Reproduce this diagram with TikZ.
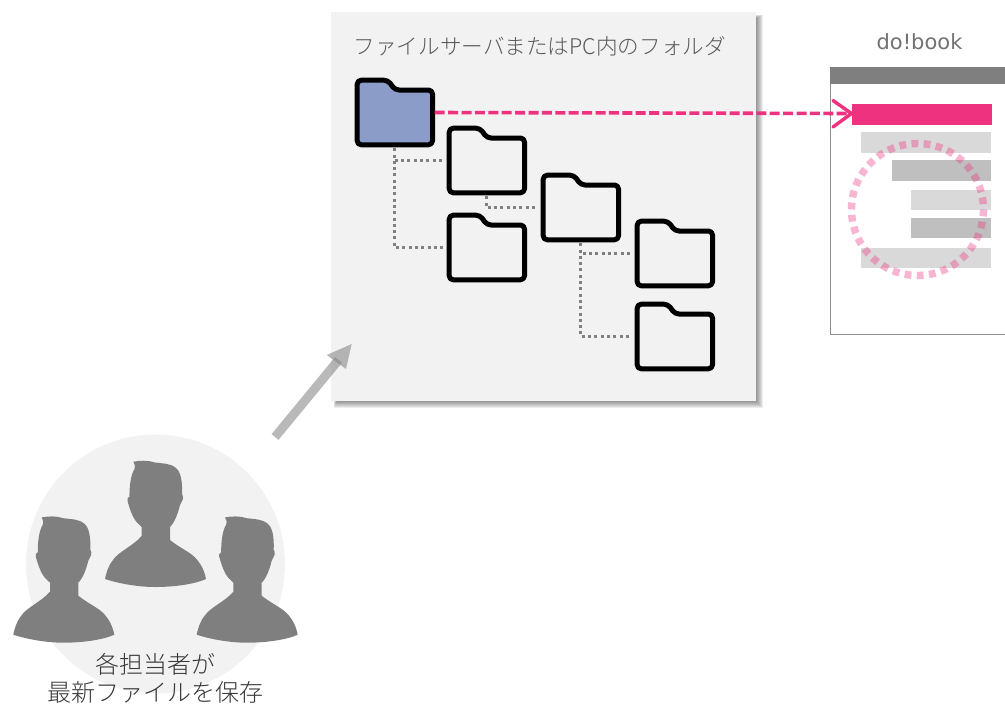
\documentclass[tikz,border=0pt]{standalone}
\usepackage{fontspec}
\setmainfont{Noto Sans CJK JP Light}
\newfontfamily\latinf{DejaVu Sans}
\usetikzlibrary{arrows.meta,calc}
\definecolor{panelbg}{HTML}{F2F2F2}
\definecolor{txtgray}{HTML}{595959}
\definecolor{txtdark}{HTML}{383838}
\definecolor{sil}{HTML}{7F7F7F}
\definecolor{pinkc}{HTML}{EE3280}
\definecolor{barl}{HTML}{D9D9D9}
\definecolor{bard}{HTML}{BFBFBF}
\definecolor{folderblue}{HTML}{8C9CC8}
\tikzset{
  x=1pt,y=-1pt,
  folderline/.style={draw=black,line width=5pt,rounded corners=4pt,line join=round},
  foldernode/.style={inner sep=0pt,minimum width=80pt,minimum height=69pt},
  dotline/.style={draw=gray,line width=2.7pt,dash pattern=on 3pt off 3.3pt},
  barbox/.style={inner sep=0pt,anchor=north west,outer sep=0pt},
  sillh/.style={fill=sil,draw=none},
}
% #1 name, #2 left, #3 top, #4 fill
\newcommand{\folderat}[4]{%
  \node[foldernode] (#1) at (#2+39.5,#3+34.5) {};
  \draw[folderline,fill=#4] (#2+2.2,#3+34) -- (#2+2.2,#3+2.2) -- (#2+33,#3+2.2)
     -- (#2+40,#3+12) -- (#2+77.5,#3+12) -- (#2+77.5,#3+66.8) -- (#2+2.2,#3+66.8) -- cycle;
}
% silhouette: #1 dx, #2 dy
\newcommand{\personat}[2]{%
  \fill[sillh,shift={(#1,#2)}] (133.3,461.7)
   .. controls (135,465) and (135.5,467) .. (134.5,469)
   .. controls (130.5,475) and (129.3,488) .. (129.5,496.5)
   .. controls (127.5,497.5) and (127,499) .. (127.5,501)
   .. controls (130,510) and (133,518) .. (136.5,522)
   -- (141.7,527) -- (141.7,536)
   .. controls (133,546) and (118,552) .. (113,560)
   .. controls (108,566) and (106,574) .. (105,579)
   .. controls (120,584) and (140,587) .. (155,587)
   .. controls (175,587) and (195,584) .. (206,579)
   .. controls (204,568) and (198,558) .. (188,552)
   .. controls (180,547) and (175,544) .. (170,540)
   -- (170,527)
   .. controls (175,522) and (178,513) .. (180,505)
   .. controls (182.5,500) and (184,498) .. (183,496.5)
   -- (182,494)
   .. controls (182.5,482) and (181,472) .. (176,468)
   .. controls (170,463) and (162,463.5) .. (155,462.5)
   .. controls (148,460) and (140,460.5) .. (133.3,461.7) -- cycle;
}
\begin{document}
\begin{tikzpicture}
\useasboundingbox (0,0) rectangle (1005,705);
% panel shadow
\foreach \o in {7,6,5,4,3,2,1,0}{
  \fill[black,opacity=0.07] (337-0.5*\o,18-0.5*\o) rectangle (756+\o,401+\o);
}
\node[fill=panelbg,inner sep=0pt,minimum width=425pt,minimum height=389pt] (panel) at (543.5,206.5) {};
\node[text=txtgray,font=\fontsize{21.6pt}{24pt}\selectfont,anchor=west,inner sep=0pt] (title) at (353.5,46) {ファイルサーバまたはPC内のフォルダ};

% folders
\folderat{f1}{355}{78}{folderblue}
\folderat{f2}{447}{126}{panelbg}
\folderat{f3}{447}{213}{panelbg}
\folderat{f4}{541}{173}{panelbg}
\folderat{f5}{635}{219}{panelbg}
\folderat{f6}{635}{302}{panelbg}
\draw[dotline] ($(f1.south)+(0,1)$) |- ($(f2.west)+(-3,0)$);
\draw[dotline] ($(f1.south)+(0,1)$) |- ($(f3.west)+(-3,0)$);
\draw[dotline] ($(f2.south)+(0,1)$) |- ($(f4.west)+(-3,0)$);
\draw[dotline] ($(f4.south)+(0,1)$) |- ($(f5.west)+(-3,0)$);
\draw[dotline] ($(f4.south)+(0,1)$) |- ($(f6.west)+(-3,0)$);

% do!book window
\node[text=txtgray!85!white,font=\latinf\fontsize{21pt}{24pt}\selectfont,inner sep=0pt] (dobook) at (919.5,42) {do!book};
\fill[white] (830.5,67) rectangle (1005,334);
\draw[draw=gray!90,line width=1pt] (1005,334) -- (830.5,334) -- (830.5,67);
\node[fill=sil,barbox,minimum width=175pt,minimum height=17pt] (tbar) at (830,67) {};
\node[fill=pinkc,barbox,minimum width=140pt,minimum height=21pt] (pbar) at (852,104) {};
\node[fill=barl,barbox,minimum width=130pt,minimum height=21pt] (b1) at (861,132) {};
\node[fill=bard,barbox,minimum width=99pt,minimum height=21pt] (b2) at (892,160) {};
\node[fill=barl,barbox,minimum width=80pt,minimum height=20pt] (b3) at (911,190) {};
\node[fill=bard,barbox,minimum width=80pt,minimum height=20pt] (b4) at (911,218) {};
\node[fill=barl,barbox,minimum width=130pt,minimum height=20pt] (b5) at (861,248) {};
\draw[pinkc,opacity=0.36,line width=7.4pt,dash pattern=on 6.8pt off 5.4pt] (917.5,209.5) circle[radius=66];

% pink arrow
\coordinate (ptip) at (851.5,113.5);
\coordinate (barbu) at (833,100.5);
\coordinate (barbd) at (833,127);
\draw[pinkc,line width=3.6pt,dash pattern=on 10pt off 3.4pt] (f1.east) -- (ptip);
\draw[pinkc,line width=3.4pt,line cap=round,line join=round] (barbu) -- (ptip) -- (barbd);

% people
\fill[panelbg] (155.5,564) circle[radius=129.5];
\personat{0}{0}
\personat{-91.7}{55.7}
\personat{91.7}{55.7}
\node[text=txtdark,font=\fontsize{24pt}{28pt}\selectfont,align=center,inner sep=0pt] (who) at (155.5,678) {各担当者が\\[0pt]最新ファイルを保存};

% grey arrow
\coordinate (astart) at (275,437);
\coordinate (amid) at (338.5,360);
\coordinate (atip) at (351.7,344);
\coordinate (ah1) at (326.7,355);
\coordinate (ah2) at (346,369);
\draw[gray,opacity=0.55,line width=9pt] (astart) -- (amid);
\fill[gray,opacity=0.55] (atip) -- (ah1) -- (ah2) -- cycle;
\end{tikzpicture}
\end{document}
